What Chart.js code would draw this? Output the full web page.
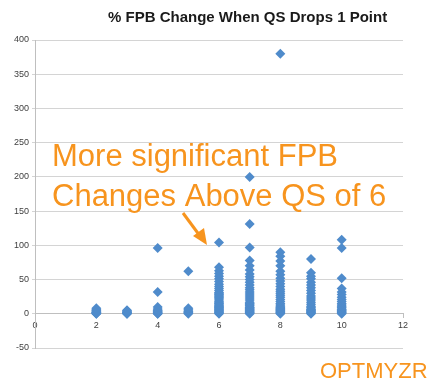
<!DOCTYPE html>
<html>
<head>
<meta charset="utf-8">
<script src="https://cdn.jsdelivr.net/npm/chart.js@4/dist/chart.umd.min.js"></script>
<style>
  html, body { margin: 0; padding: 0; background: #fff; }
  #wrap { width: 436px; height: 387px; position: relative; }
</style>
</head>
<body>
<div id="wrap"><canvas id="chart"></canvas></div>
<script>
// Quality Score (x) -> % FPB change values
const qsLevels = [2, 3, 4, 5, 6, 7, 8, 9, 10];
const qs2 = [0, 0, 1, 1, 2, 2, 3, 4, 5, 6, 8];
const qs3 = [0, 0, 1, 1, 2, 3, 4, 5];
const qs4 = [0, 0, 1, 2, 3, 4, 5, 7, 10, 32, 96];
const qs5 = [0, 1, 2, 3, 4, 6, 8, 62];
const qs6 = [0, 1, 2, 3, 4, 5, 6, 7, 8, 9, 10, 11, 12, 14, 15, 16, 18, 20, 22, 24, 25, 27, 28, 30, 31, 34, 37, 40, 43, 47, 51, 55, 59, 63, 68, 104];
const qs7 = [0, 1, 2, 3, 4, 5, 6, 7, 8, 9, 10, 12, 14, 15, 17, 20, 23, 26, 29, 32, 35, 38, 42, 46, 50, 54, 58, 64, 70, 78, 97, 131, 200];
const qs8 = [0, 1, 2, 3, 4, 5, 6, 7, 8, 9, 11, 13, 15, 18, 21, 24, 27, 30, 33, 36, 40, 44, 48, 52, 57, 62, 70, 77, 84, 90, 380];
const qs9 = [0, 1, 2, 3, 4, 5, 6, 7, 9, 11, 14, 17, 20, 23, 26, 30, 34, 38, 42, 46, 51, 55, 60, 80];
const qs10 = [0, 1, 2, 3, 4, 5, 6, 7, 9, 11, 13, 15, 18, 21, 24, 28, 32, 37, 52, 96, 108];
const qsValues = [qs2, qs3, qs4, qs5, qs6, qs7, qs8, qs9, qs10];

const xTicks = [0, 2, 4, 6, 8, 10, 12];
const yTicks = [400, 350, 300, 250, 200, 150, 100, 50, 0, -50];

const titleText = '% FPB Change When QS Drops 1 Point';
const noteLines = ['More significant FPB', 'Changes Above QS of 6'];
const brandText = 'OPTMYZR';

const ORANGE = '#F7941E';
const BLUE = '#4F8BCB';

// build point list for the scatter
const points = [];
qsLevels.forEach((qs, i) => {
  qsValues[i].forEach(v => points.push({ x: qs, y: v }));
});

// text + arrow drawn on top
const overlay = {
  id: 'overlay',
  afterDraw(chart) {
    const ctx = chart.ctx;
    ctx.save();
    // title
    ctx.fillStyle = '#1a1a1a';
    ctx.font = 'bold 15px "Liberation Sans", Arial, sans-serif';
    ctx.textBaseline = 'alphabetic';
    ctx.textAlign = 'left';
    ctx.fillText(titleText, 108, 22);

    // annotation
    ctx.fillStyle = ORANGE;
    ctx.font = '31px "Liberation Sans", Arial, sans-serif';
    ctx.fillText(noteLines[0], 52, 166);
    ctx.fillText(noteLines[1], 52, 206);

    // arrow
    ctx.strokeStyle = ORANGE;
    ctx.lineWidth = 3;
    ctx.beginPath();
    ctx.moveTo(183, 213);
    ctx.lineTo(200, 236);
    ctx.stroke();
    ctx.beginPath();
    ctx.moveTo(207, 245);
    ctx.lineTo(193, 236);
    ctx.lineTo(204, 228);
    ctx.closePath();
    ctx.fill();

    // brand
    ctx.font = '22px "Liberation Sans", Arial, sans-serif';
    ctx.fillText(brandText, 320, 378);
    ctx.restore();
  }
};

new Chart(document.getElementById('chart'), {
  type: 'scatter',
  data: {
    datasets: [{
      data: points,
      pointStyle: 'rectRot',
      pointRadius: 5,
      backgroundColor: BLUE,
      borderColor: BLUE,
      borderWidth: 0
    }]
  },
  options: {
    responsive: true,
    maintainAspectRatio: false,
    animation: false,
    layout: { padding: { top: 40, right: 33, bottom: 39, left: 0 } },
    plugins: {
      legend: { display: false },
      tooltip: { enabled: false }
    },
    scales: {
      x: {
        type: 'linear',
        position: { y: 0 },
        min: 0,
        max: 12,
        afterFit: (s) => { s.height = 0; },
        afterBuildTicks: (s) => { s.ticks = xTicks.map(v => ({ value: v })); },
        grid: { drawOnChartArea: false, tickLength: 4, color: '#bfbfbf' },
        border: { display: true, color: '#bfbfbf' },
        ticks: {
          color: '#404040',
          font: { size: 9, family: '"Liberation Sans", Arial, sans-serif' },
          padding: 2,
          maxRotation: 0
        }
      },
      y: {
        type: 'linear',
        min: -50,
        max: 400,
        afterFit: (s) => { s.width = 35; },
        afterBuildTicks: (s) => { s.ticks = yTicks.map(v => ({ value: v })); },
        grid: { color: '#d4d4d4', tickLength: 3 },
        border: { display: true, color: '#bfbfbf' },
        ticks: {
          color: '#404040',
          font: { size: 9, family: '"Liberation Sans", Arial, sans-serif' },
          padding: 3
        }
      }
    }
  },
  plugins: [overlay]
});
</script>
</body>
</html>
